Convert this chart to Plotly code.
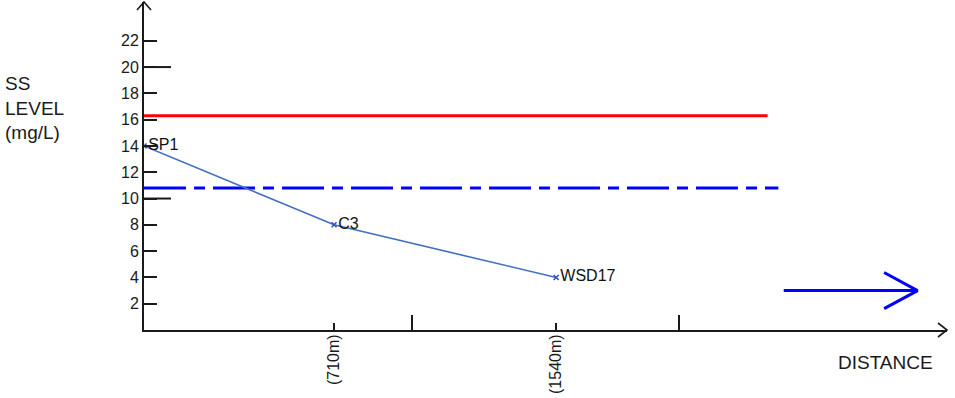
import plotly.graph_objects as go

# Sampling stations along the channel
stations = ['SP1', 'C3', 'WSD17']
distance_m = [0, 710, 1540]
ss_level = [14, 8, 4]

# Reference levels (mg/L) and how far they are drawn along the distance axis
limit_level = 16.3
limit_extent = [0, 2330]
baseline_level = 10.8
baseline_extent = [0, 2370]

# Flow direction arrow (distance, level)
flow_x = [2390, 2890]
flow_y = 3
flow_head_back = 2765
flow_head_spread = 1.37

y_ticks = [2, 4, 6, 8, 10, 12, 14, 16, 18, 20, 22]
y_long_ticks = [10, 20]
x_label_ticks = [710, 1540]
x_label_text = ['(710m)', '(1540m)']
x_long_ticks = [1000, 2000]

FONT = 'Liberation Sans, Arial, sans-serif'
INK = '#1a1a1a'

fig = go.Figure()

fig.add_trace(go.Scatter(
    x=limit_extent, y=[limit_level, limit_level],
    mode='lines', line=dict(color='#ff0000', width=3),
    hoverinfo='skip'
))
fig.add_trace(go.Scatter(
    x=baseline_extent, y=[baseline_level, baseline_level],
    mode='lines', line=dict(color='#0000ff', width=3, dash='42px,8px,11px,8px'),
    hoverinfo='skip'
))
fig.add_trace(go.Scatter(
    x=distance_m, y=ss_level,
    mode='lines+markers+text',
    text=stations, textposition='middle right',
    textfont=dict(family=FONT, size=16, color='#111'),
    line=dict(color='#4070c0', width=1.6),
    marker=dict(symbol='x-thin', size=5, color='#3050c0', line=dict(width=1.5, color='#3050c0'))
))

# Flow arrow: shaft plus open head
fig.add_trace(go.Scatter(
    x=[flow_x[0], flow_x[1], None, flow_head_back, flow_x[1], flow_head_back],
    y=[flow_y, flow_y, None, flow_y + flow_head_spread, flow_y, flow_y - flow_head_spread],
    mode='lines', line=dict(color='#0000ff', width=3),
    hoverinfo='skip'
))

shapes = []
# long ticks on the y axis
for v in y_long_ticks:
    shapes.append(dict(type='line', xref='x', yref='y', xsizemode='pixel', xanchor=0,
                       x0=0, x1=27, y0=v, y1=v, line=dict(color=INK, width=2)))
# axis arrowheads
shapes.append(dict(type='path', xref='paper', yref='paper',
                   xsizemode='pixel', ysizemode='pixel', xanchor=1, yanchor=0,
                   path='M -9,7 L 0,0 L -9,-7', line=dict(color=INK, width=1.6)))
shapes.append(dict(type='path', xref='paper', yref='paper',
                   xsizemode='pixel', ysizemode='pixel', xanchor=0, yanchor=1,
                   path='M -7,-8 L 0,0 L 7,-8', line=dict(color=INK, width=1.6)))

fig.update_layout(
    width=955, height=398,
    margin=dict(l=144, r=8, t=2, b=68),
    paper_bgcolor='white', plot_bgcolor='white',
    showlegend=False,
    font=dict(family=FONT, color=INK),
    shapes=shapes,
    xaxis=dict(
        range=[0, 3000], showgrid=False, zeroline=False,
        showline=True, linecolor=INK, linewidth=2,
        tickvals=x_label_ticks, ticktext=x_label_text, tickangle=-90,
        ticks='inside', ticklen=7, tickwidth=1.5, tickcolor=INK,
        ticklabelstandoff=-4,
        tickfont=dict(family=FONT, size=16, color=INK),
        minor=dict(tickvals=x_long_ticks, ticks='inside', ticklen=15, tickwidth=1.5, tickcolor=INK),
    ),
    yaxis=dict(
        range=[0, 24.95], showgrid=False, zeroline=False,
        showline=True, linecolor=INK, linewidth=2,
        tickvals=y_ticks, ticks='inside', ticklen=13, tickwidth=2, tickcolor=INK,
        tickfont=dict(family=FONT, size=16, color=INK),
    ),
    annotations=[
        dict(text='SS<br>LEVEL<br>(mg/L)', xref='paper', yref='paper',
             x=-0.176, y=0.677, xanchor='left', yanchor='middle', align='left',
             showarrow=False, font=dict(family=FONT, size=19, color=INK)),
        dict(text='DISTANCE', xref='paper', yref='paper',
             x=0.923, y=-0.10, xanchor='center', yanchor='middle',
             showarrow=False, font=dict(family=FONT, size=19, color=INK)),
    ],
)

# drop the browser's default body margin so the figure sits at the page corner
fig.write_html("out.html", config={'displayModeBar': False},
               post_script="document.body.style.margin='0';")
